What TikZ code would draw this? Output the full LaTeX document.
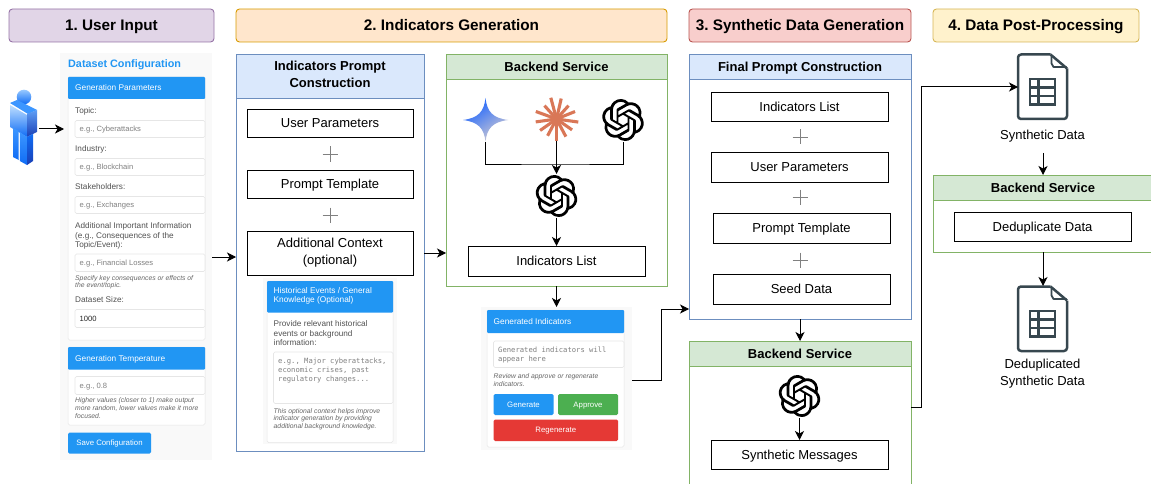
\documentclass[tikz,border=0pt]{standalone}
\usepackage{fontspec}
\setmainfont{Liberation Sans}
\setmonofont{DejaVu Sans Mono}
\usetikzlibrary{arrows.meta,calc,svg.path}
\frenchspacing
\definecolor{uiblue}{HTML}{2196F3}
\definecolor{uigreen}{HTML}{4CAF50}
\definecolor{uired}{HTML}{E53935}
\definecolor{uibg}{HTML}{F9F9F9}
\definecolor{uiline}{HTML}{E6E6E6}
\definecolor{docc}{HTML}{37474F}
\definecolor{claude}{HTML}{D97757}
\definecolor{pA}{HTML}{9673A6}\definecolor{pAf}{HTML}{E1D5E7}
\definecolor{pB}{HTML}{D79B00}\definecolor{pBf}{HTML}{FFE6CC}
\definecolor{pC}{HTML}{B85450}\definecolor{pCf}{HTML}{F8CECC}
\definecolor{pD}{HTML}{D6B656}\definecolor{pDf}{HTML}{FFF2CC}
\definecolor{groupblue}{HTML}{6C8EBF}
\definecolor{groupbluef}{HTML}{DAE8FC}
\definecolor{groupgreen}{HTML}{82B366}
\definecolor{groupgreenf}{HTML}{D5E8D4}
\definecolor{azA}{HTML}{BFDFFF}
\definecolor{azB}{HTML}{3C96FF}
\definecolor{azC}{HTML}{0F6CF5}
\definecolor{azD}{HTML}{1A3FB5}
\definecolor{azE}{HTML}{5E9EF5}
\definecolor{gemA}{HTML}{1560FF}
\definecolor{gemB}{HTML}{8AA3EE}
\definecolor{gemC}{HTML}{D2CCD2}
\newcounter{tn}
\newcommand{\fsz}[1]{\fontsize{#1pt}{#1pt}\selectfont}
\newcommand{\st}{\rule[-0.25em]{0pt}{1.2em}}
\newcommand{\bx}[7]{\pgfmathsetmacro\bw{#4-#2}\pgfmathsetmacro\bh{#5-#3}%
  \node[#6,anchor=north west,minimum width=\bw pt,minimum height=\bh pt,inner sep=0pt,outer sep=0pt] (#1) at (#2,#3) {#7};}
\newcommand{\ft}[4]{\stepcounter{tn}\node[#3,anchor=west,inner sep=0pt,strutted] (t\thetn) at (#1,#2) {#4};}
\newcommand{\plusmark}[2]{\draw[plusline] (#1-7.5,#2)--(#1+7.5,#2) (#1,#2-7.5)--(#1,#2+7.5);}
\tikzset{
  x=1pt,y=-1pt,
  strutted/.style={execute at begin node=\st,execute at end node=\st},
  phase/.style={strutted,line width=0.9pt,rounded corners=3.5pt,font=\fsz{15.3}\bfseries,align=center},
  bluehead/.style={strutted,draw=groupblue,fill=groupbluef,line width=0.9pt,font=\fsz{13}\bfseries,align=center},
  greenhead/.style={strutted,draw=groupgreen,fill=groupgreenf,line width=0.9pt,font=\fsz{13}\bfseries,align=center},
  frameb/.style={draw=groupblue,line width=0.9pt,fill=white},
  frameg/.style={draw=groupgreen,line width=0.9pt,fill=white},
  stepbox/.style={strutted,draw=black,line width=0.9pt,fill=white,font=\fsz{13},align=center},
  plusline/.style={draw=black!50,line width=0.7pt},
  arr/.style={draw=black,line width=1pt,-{Stealth[length=9pt,width=9pt,inset=2.5pt]}},
  plain/.style={draw=black,line width=1pt},
  uipage/.style={fill=uibg,draw=none},
  uipanel/.style={fill=white,draw=uiline,line width=0.5pt,rounded corners=1.5pt},
  uihead/.style={fill=uiblue,draw=none,rounded corners=1pt},
  uiheadt/.style={text=white,font=\fsz{8.3},align=left},
  uifield/.style={fill=white,draw=uiline,line width=0.6pt,rounded corners=1.5pt},
  uilab/.style={text=black!68,font=\fsz{8.2},align=left},
  uiph/.style={text=black!50,font=\fsz{7.6}},
  uinote/.style={text=black!60,font=\fsz{6.8}\itshape},
  uimono/.style={text=black!50,font=\fsz{7.2}\ttfamily},
  uibtn/.style={strutted,fill=#1,draw=none,rounded corners=1.5pt,text=white,font=\fsz{7.8}},
  icon/.style={inner sep=0pt,outer sep=0pt,minimum size=#1 pt,draw=none},
  captext/.style={strutted,font=\fsz{13},inner sep=0pt,align=center},
  oai/.pic={
    \fill[black,even odd rule,xscale=1.75,yscale=-1.75,xshift=-12pt,yshift=-12pt] svg {M22.2819 9.8211a5.9847 5.9847 0 0 0-.5157-4.9108 6.0462 6.0462 0 0 0-6.5098-2.9A6.0651 6.0651 0 0 0 4.9807 4.1818a5.9847 5.9847 0 0 0-3.9977 2.9 6.0462 6.0462 0 0 0 .7427 7.0966 5.98 5.98 0 0 0 .511 4.9107 6.051 6.051 0 0 0 6.5146 2.9001A5.9847 5.9847 0 0 0 13.2599 24a6.0557 6.0557 0 0 0 5.7718-4.2058 5.9894 5.9894 0 0 0 3.9977-2.9001 6.0557 6.0557 0 0 0-.7475-7.0729zm-9.022 12.6081a4.4755 4.4755 0 0 1-2.8764-1.0408l.1419-.0804 4.7783-2.7582a.7948.7948 0 0 0 .3927-.6813v-6.7369l2.02 1.1686a.071.071 0 0 1 .038.052v5.5826a4.504 4.504 0 0 1-4.4945 4.4944zm-9.6607-4.1254a4.4708 4.4708 0 0 1-.5346-3.0137l.142.0852 4.783 2.7582a.7712.7712 0 0 0 .7806 0l5.8428-3.3685v2.3324a.0804.0804 0 0 1-.0332.0615L9.74 19.9502a4.4992 4.4992 0 0 1-6.1408-1.6464zM2.3408 7.8956a4.485 4.485 0 0 1 2.3655-1.9728V11.6a.7664.7664 0 0 0 .3879.6765l5.8144 3.3543-2.0201 1.1685a.0757.0757 0 0 1-.071 0l-4.8303-2.7865A4.504 4.504 0 0 1 2.3408 7.872zm16.5963 3.8558L13.1038 8.364 15.1192 7.2a.0757.0757 0 0 1 .071 0l4.8303 2.7913a4.4944 4.4944 0 0 1-.6765 8.1042v-5.6772a.79.79 0 0 0-.407-.667zm2.0107-3.0231l-.142-.0852-4.7735-2.7818a.7759.7759 0 0 0-.7854 0L9.409 9.2297V6.8974a.0662.0662 0 0 1 .0284-.0615l4.8303-2.7866a4.4992 4.4992 0 0 1 6.6802 4.66zM8.3065 12.863l-2.02-1.1638a.0804.0804 0 0 1-.038-.0567V6.0742a4.4992 4.4992 0 0 1 7.3757-3.4537l-.142.0805L8.704 5.459a.7948.7948 0 0 0-.3927.6813zM9.4041 10.4976l2.602-1.4998 2.6069 1.4998v2.9994l-2.5974 1.4997-2.6067-1.4997Z};
  },
  docpic/.pic={
    \draw[docc,line width=2.5pt,line join=round,rounded corners=3pt]
      (8,-32)--(-24.5,-32)--(-24.5,32.5)--(24.5,32.5)--(24.5,-18);
    \draw[docc,line width=2.5pt,line join=round] (8,-32)--(24.5,-18);
    \draw[docc,line width=1.8pt,line join=round] (9,-31)--(9,-23)--(11,-19.5)--(24,-19.5);
    \draw[docc,line width=2.5pt] (-12.5,-7.5) rectangle (12.5,18);
    \draw[docc,line width=2.2pt] (-12.5,1)--(12.5,1) (-12.5,9.5)--(12.5,9.5) (-4,-7.5)--(-4,18);
  },
}
\begin{document}
\begin{tikzpicture}
\useasboundingbox (0,0) rectangle (1151,484);
% phase headers
\bx{ph1}{9}{9}{214}{42}{phase,draw=pA,fill=pAf}{1. User Input}
\bx{ph2}{236}{9}{667}{42}{phase,draw=pB,fill=pBf}{2. Indicators Generation}
\bx{ph3}{689}{9}{911}{42}{phase,draw=pC,fill=pCf}{3. Synthetic Data Generation}
\bx{ph4}{933}{9}{1139}{42}{phase,draw=pD,fill=pDf}{4. Data Post-Processing}

% person
\node[icon=27] (user) at (24,130) {};
\shade[top color=azA!70!azB,bottom color=azC] (24,97) circle (7.3);
\fill[azB] (10,103)--(17,100)--(37,110)--(28,114)--cycle;
\shade[top color=azA,bottom color=azC] (10,105)--(27,115)--(27,137)--(10,127)--cycle;
\shade[top color=azE,bottom color=azD] (27,114)--(37,110)--(37,132)--(27,137)--cycle;
\shade[top color=azB,bottom color=azC] (13,128)--(18.7,131)--(18.7,160)--(13,157)--cycle;
\shade[top color=azB,bottom color=azC] (19.8,132)--(27,137)--(27,165)--(19.8,161)--cycle;
\shade[top color=azC,bottom color=azD] (27,137)--(33,134)--(33,161)--(27,165)--cycle;

% form 1
\bx{form1}{60}{53}{212}{460}{uipage}{}
\ft{68}{63.5}{text=uiblue,font=\fsz{10.8}\bfseries}{Dataset Configuration}
\bx{p1}{68}{77}{205}{340}{uipanel}{}
\bx{p1h}{68}{77}{205}{99}{uihead}{}
\ft{75}{88}{uiheadt}{Generation Parameters}
\ft{75}{110.5}{uilab}{Topic:}
\bx{f1}{75}{120.5}{205}{137.5}{uifield}{}
\ft{79.5}{129}{uiph}{e.g., Cyberattacks}
\ft{75}{149}{uilab}{Industry:}
\bx{f2}{75}{158.5}{205}{175.5}{uifield}{}
\ft{79.5}{167}{uiph}{e.g., Blockchain}
\ft{75}{187}{uilab}{Stakeholders:}
\bx{f3}{75}{196.5}{205}{213.5}{uifield}{}
\ft{79.5}{205}{uiph}{e.g., Exchanges}
\ft{75}{225.5}{uilab}{Additional Important Information}
\ft{75}{235.5}{uilab}{(e.g., Consequences of the}
\ft{75}{245}{uilab}{Topic/Event):}
\bx{f4}{75}{254}{205}{271.5}{uifield}{}
\ft{79.5}{263}{uiph}{e.g., Financial Losses}
\ft{75}{278}{uinote}{Specify key consequences or effects of}
\ft{75}{285.5}{uinote}{the event/topic.}
\ft{75}{300}{uilab}{Dataset Size:}
\bx{f5}{75}{309.5}{205}{327.5}{uifield}{}
\ft{79.5}{318.5}{uiph,text=black!85}{1000}
\bx{p2}{68}{347}{205}{425}{uipanel}{}
\bx{p2h}{68}{347}{205}{369.5}{uihead}{}
\ft{75}{358.5}{uiheadt}{Generation Temperature}
\bx{f6}{75}{376.5}{205}{394.5}{uifield}{}
\ft{79.5}{385.5}{uiph}{e.g., 0.8}
\ft{75}{400.5}{uinote}{Higher values (closer to 1) make output}
\ft{75}{408}{uinote}{more random, lower values make it more}
\ft{75}{416}{uinote}{focused.}
\bx{save}{68}{432.5}{151}{453.5}{uibtn=uiblue}{Save Configuration}

% section 2 left
\bx{ipcf}{236}{54}{424}{451}{frameb}{}
\bx{ipch}{236}{54}{424}{98}{bluehead}{Indicators Prompt\\[4pt]Construction}
\bx{up1}{247}{109}{413}{137}{stepbox}{User Parameters}
\plusmark{330}{154}
\bx{pt1}{247}{170}{413}{198}{stepbox}{Prompt Template}
\plusmark{330}{215}
\bx{ac1}{247}{231}{413}{275}{stepbox}{Additional Context\\[3.5pt](optional)}
\bx{form2}{263}{278}{397}{444}{uipage}{}
\bx{p3}{267}{281}{393}{442.5}{uipanel}{}
\bx{p3h}{267}{281}{393}{312.5}{uihead}{}
\stepcounter{tn}\node[uiheadt,anchor=north west,inner sep=0pt] (t\thetn) at (273.5,287.5) {Historical Events / General\\[0.6pt]Knowledge (Optional)};
\ft{273.5}{324}{uilab}{Provide relevant historical}
\ft{273.5}{333.5}{uilab}{events or background}
\ft{273.5}{343}{uilab}{information:}
\bx{f7}{273.5}{352}{393}{403.5}{uifield}{}
\ft{278}{361}{uimono}{e.g., Major cyberattacks,}
\ft{278}{370}{uimono}{economic crises, past}
\ft{278}{379}{uimono}{regulatory changes...}
\ft{273.5}{411}{uinote}{This optional context helps improve}
\ft{273.5}{418.5}{uinote}{indicator generation by providing}
\ft{273.5}{426}{uinote}{additional background knowledge.}

% section 2 right
\bx{be1f}{446}{54}{667}{286}{frameg}{}
\bx{be1h}{446}{54}{667}{79}{greenhead}{Backend Service}
\node[icon=44] (gem) at (485,120) {};
\shade[left color=gemA,middle color=gemB,right color=gemC,shading angle=35]
  (485.5,98) .. controls (487,112) and (493,118) .. (508,120)
  .. controls (493,122) and (487,128) .. (485.5,141.5)
  .. controls (484,128) and (478,122) .. (463,120)
  .. controls (478,118) and (484,112) .. (485.5,98) -- cycle;
\node[icon=44] (cla) at (556.5,119) {};
\foreach \a/\l in {8/22,35/19,62/20,90/22,118/19,145/20,172/21,200/22,228/18,255/22,283/21,312/18,338/20}{
  \draw[claude,line width=3.1pt] (556.5,119)--++(\a:\l);}
\fill[claude] (556.5,119) circle (6);
\node[icon=44] (oai1) at (623,120) {};
\pic at (oai1) {oai};
\node[icon=44] (oai2) at (556.5,196) {};
\pic at (oai2) {oai};
\bx{il1}{468}{246}{645}{276}{stepbox}{Indicators List}
\coordinate (join) at (556.5,164);
\draw[plain] (gem.south) |- (join) -| (oai1.south);
\draw[arr] (cla.south) -- (oai2.north);
\draw[arr] (oai2.south) -- (il1.north);

% generated indicators form
\bx{form3}{481}{307}{632}{450}{uipage}{}
\bx{p4}{487}{310}{624}{447}{uipanel}{}
\bx{p4h}{487}{310}{624}{333}{uihead}{}
\ft{493.5}{322}{uiheadt}{Generated Indicators}
\bx{f8}{493.5}{341}{624}{367.5}{uifield}{}
\ft{498}{349.5}{uimono}{Generated indicators will}
\ft{498}{358.5}{uimono}{appear here}
\ft{493.5}{376}{uinote}{Review and approve or regenerate}
\ft{493.5}{384}{uinote}{indicators.}
\bx{gen}{493.5}{394}{553.5}{415}{uibtn=uiblue}{Generate}
\bx{app}{558}{394}{618}{415}{uibtn=uigreen}{Approve}
\bx{reg}{493.5}{419.5}{618}{441}{uibtn=uired}{Regenerate}

% section 3
\bx{fpf}{689}{54}{911}{319}{frameb}{}
\bx{fph}{689}{54}{911}{79}{bluehead}{Final Prompt Construction}
\bx{il2}{711}{92}{888}{121}{stepbox}{Indicators List}
\plusmark{800}{137}
\bx{up2}{711}{152}{888}{182}{stepbox}{User Parameters}
\plusmark{800}{197}
\bx{pt2}{713}{213}{890}{243}{stepbox}{Prompt Template}
\plusmark{800}{260}
\bx{sd}{713}{274}{890}{304}{stepbox}{Seed Data}
\bx{be2f}{689}{341}{911}{490}{frameg}{}
\bx{be2h}{689}{341}{911}{366}{greenhead}{Backend Service}
\node[icon=44] (oai3) at (799.5,396) {};
\pic at (oai3) {oai};
\bx{sm}{711}{440}{888}{469}{stepbox}{Synthetic Messages}

% section 4
\node[icon=49,minimum height=65pt] (doc1) at (1042.5,86.5) {};
\pic at (doc1) {docpic};
\node[captext] (dl1) at (1042.5,135) {Synthetic Data};
\bx{be3f}{933}{175}{1155}{252}{frameg}{}
\bx{be3h}{933}{175}{1155}{200}{greenhead}{}
\node[font=\fsz{13}\bfseries,inner sep=0pt,strutted] (be3t) at (1043,187.5) {Backend Service};
\bx{dd}{954}{212}{1131}{241}{stepbox}{Deduplicate Data}
\node[icon=49,minimum height=65pt] (doc2) at (1042.5,318.5) {};
\pic at (doc2) {docpic};
\node[captext] (dl2) at (1042.5,373.5) {Deduplicated\\[4pt]Synthetic Data};

% connectors
\draw[arr] (39,129) -- (64,129);
\draw[arr] (form1.east |- 0,257) -- (ipcf.west |- 0,257);
\draw[arr] (ipcf.east |- 0,253) -- (be1f.west |- 0,253);
\draw[arr] (il1.south |- be1f.south) -- (il1.south |- form3.north);
\draw[arr] (form3.east |- 0,380) -- (661,380) -- (661,309) -- (fpf.west |- 0,309);
\draw[arr] (fpf.south) -- (be2f.north);
\draw[arr] (oai3.south) -- (sm.north);
\draw[arr] (be2f.east |- 0,407) -- (921,407) -- (921,87) -- (doc1.west |- 0,87);
\draw[arr] (1043,153) -- (be3h.north -| 1043,0);
\draw[arr] (be3f.south -| 1043,0) -- (doc2.north -| 1043,0);
\end{tikzpicture}
\end{document}
